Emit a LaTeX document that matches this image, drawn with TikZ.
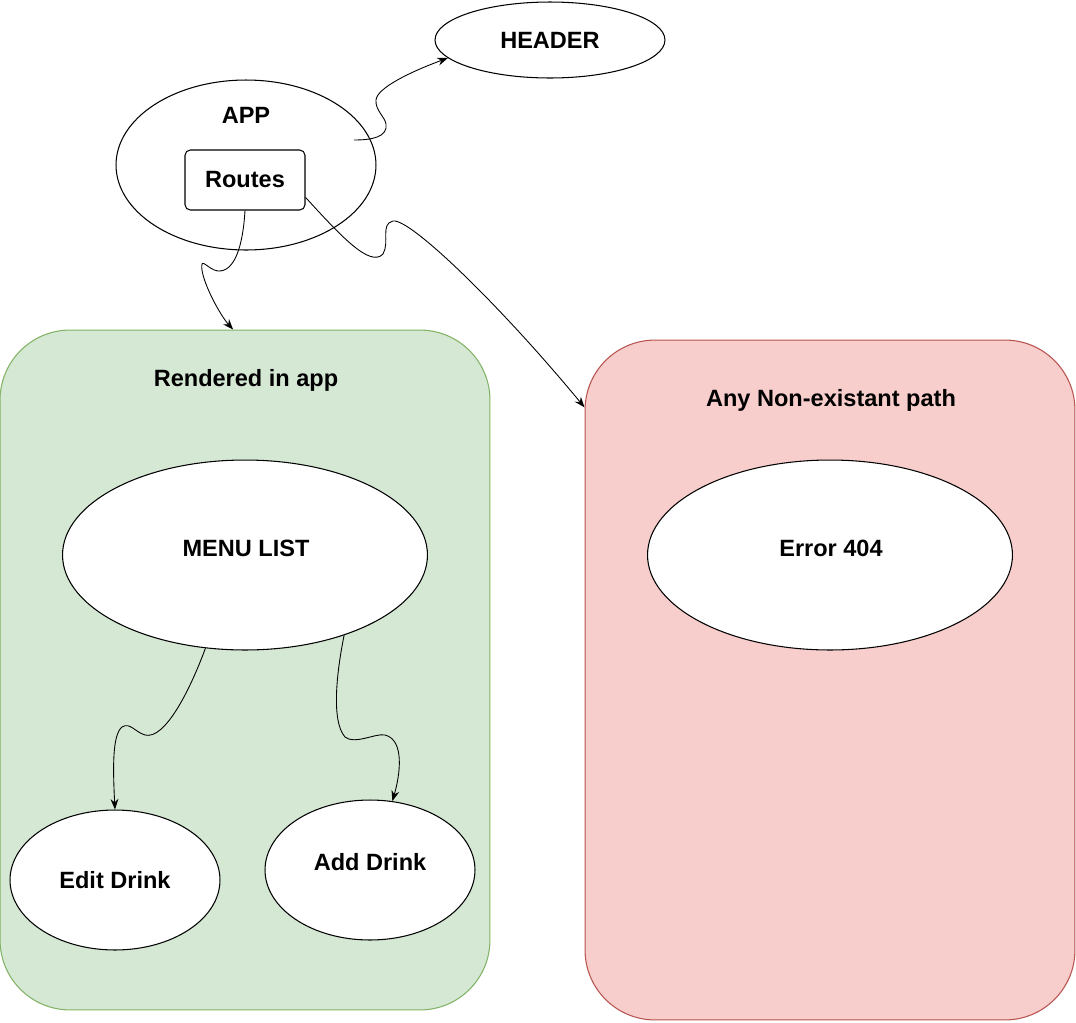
\documentclass[tikz,border=0pt]{standalone}
\usepackage{fontspec}
\setmainfont{Liberation Sans}
\usetikzlibrary{arrows.meta, shapes.geometric}
\definecolor{panelgreen}{HTML}{D5E8D4}
\definecolor{edgegreen}{HTML}{82B366}
\definecolor{panelred}{HTML}{F8CECC}
\definecolor{edgered}{HTML}{B85450}

\begin{document}
\begin{tikzpicture}[x=0.02cm, y=-0.02cm, >={Stealth[length=6pt,width=4.5pt]}, line width=0.6pt,
		every node/.style={font=\fontsize{13.4}{15}\selectfont\bfseries},
		oval/.style={ellipse, draw, fill=white, inner sep=0pt},
		panel/.style={draw, rounded corners=1.4cm, minimum width=9.8cm, minimum height=13.6cm},
		flow/.style={->, line width=0.5pt}]
			\useasboundingbox (0,0) rectangle (1076,1022);
			
			% Panels
			\node[panel, fill=panelgreen, draw=edgegreen] (green) at (245,670) {};
			\node[panel, fill=panelred, draw=edgered] (red) at (830,680) {};
			\node (greenlbl) at (246,380) {Rendered in app};
			\node (redlbl) at (831,400) {Any Non-existant path};
			
			% Top nodes
			\node[oval, minimum width=4.6cm, minimum height=1.52cm] (header) at (550,40) {HEADER};
			\node[oval, minimum width=5.2cm, minimum height=3.4cm] (app) at (246,165) {};
			\node (applbl) at (246,115) {APP};
			\node[draw, fill=white, rounded corners=3pt, minimum width=2.4cm, minimum height=1.2cm] (routes) at (245,180) {Routes};
			\coordinate (appout) at (354,140);
			
			% Nodes inside the panels
			\node[oval, minimum width=7.3cm, minimum height=3.8cm] (menu) at (245,555) {};
			\node (menulbl) at (246,548) {MENU LIST};
			\node[oval, minimum width=7.3cm, minimum height=3.8cm] (error) at (830,555) {};
			\node (errorlbl) at (831,548) {Error 404};
			\node[oval, minimum width=4.2cm, minimum height=2.8cm] (edit) at (115,880) {Edit Drink};
			\node[oval, minimum width=4.2cm, minimum height=2.8cm] (add) at (370,870) {};
			\node (addlbl) at (370,862) {Add Drink};
			
			% Edges from app
			\draw[flow] (appout) .. controls (372,140) and (388,137) .. (386,124)
				.. controls (385,117) and (375,110) .. (376,100)
				.. controls (377,88) and (410,72) .. (header.190);
			\draw[flow] (routes.south) .. controls (243,245) and (235,272) .. (218,271)
				.. controls (208,270) and (200,255) .. (202,270)
				.. controls (204,285) and (220,315) .. (green.92);
			\draw[flow] (routes.-16) .. controls (340,235) and (370,268) .. (383,254)
				.. controls (390,242) and (380,224) .. (393,221)
				.. controls (410,218) and (500,305) .. (red.132);
			
			% Edges from menu list
			\draw[flow] (menu.-113) .. controls (190,690) and (165,740) .. (145,735)
				.. controls (135,732) and (130,722) .. (122,727)
				.. controls (112,735) and (113,770) .. (edit.north);
			\draw[flow] (menu.-39) .. controls (338,665) and (330,720) .. (345,737)
				.. controls (355,745) and (375,733) .. (385,735)
				.. controls (405,740) and (400,775) .. (add.72);
		\end{tikzpicture}
\end{document}
